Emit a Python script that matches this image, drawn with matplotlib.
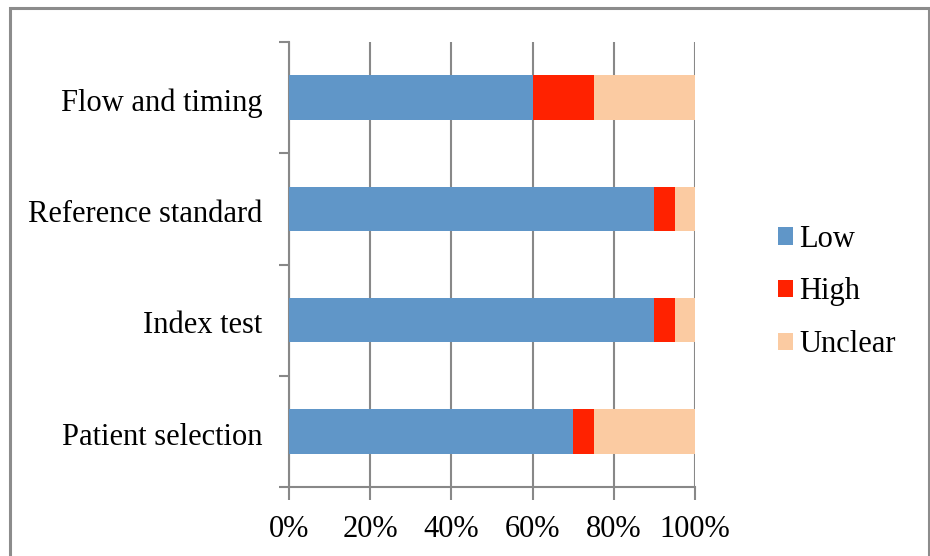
import matplotlib
matplotlib.use("Agg")
import matplotlib.pyplot as plt
from matplotlib.patches import Rectangle
from matplotlib.ticker import FixedLocator, NullFormatter

categories = ["Patient selection", "Index test", "Reference standard", "Flow and timing"]
low = [70, 90, 90, 60]
high = [5, 5, 5, 15]
unclear = [25, 5, 5, 25]
series_names = ["Low", "High", "Unclear"]
colors = ["#6096C8", "#FF2200", "#FBCBA2"]
xticks = [0, 20, 40, 60, 80, 100]
xtick_labels = ["0%", "20%", "40%", "60%", "80%", "100%"]

plt.rcParams['font.family'] = ['Liberation Serif', 'DejaVu Serif']

W, H = 930, 556
fig = plt.figure(figsize=(W / 100, H / 100), dpi=100)
ax = fig.add_axes([289 / W, 1 - 487 / H, (695 - 289) / W, (487 - 42) / H])

ypos = list(range(len(categories)))
left = [0] * len(categories)
for vals, name, c in zip([low, high, unclear], series_names, colors):
    ax.barh(ypos, vals, left=left, height=0.4, color=c, label=name, zorder=3)
    left = [a + b for a, b in zip(left, vals)]

ax.set_xlim(0, 100)
ax.set_ylim(-0.5, len(categories) - 0.5)
ax.set_xticks(xticks)
ax.set_xticklabels(xtick_labels, fontsize=22)
ax.set_yticks([y - 0.02 for y in ypos])
ax.set_yticklabels(categories, fontsize=22)
ax.tick_params(axis='y', length=0, pad=19)
ax.yaxis.set_minor_locator(FixedLocator([i - 0.5 for i in range(len(categories) + 1)]))
ax.yaxis.set_minor_formatter(NullFormatter())
ax.tick_params(axis='y', which='minor', length=7, width=1.5, color='#888888')
ax.tick_params(axis='x', length=9, width=1.5, color='#888888', pad=11)
ax.xaxis.grid(True, color='#888888', linewidth=1.5, zorder=0)
for s in ['top', 'right']:
    ax.spines[s].set_visible(False)
for s in ['left', 'bottom']:
    ax.spines[s].set_color('#888888')
    ax.spines[s].set_linewidth(1.5)

leg = fig.legend(loc='center left', bbox_to_anchor=(750 / W, 1 - 292 / H), frameon=False,
                 fontsize=22, handlelength=0.5, handleheight=0.5, handletextpad=0.2,
                 labelspacing=0.78)

fig.patches.append(Rectangle((9.5 / W, -0.05), (929 - 9.5) / W, 1.05 - 7.5 / H,
                             transform=fig.transFigure, fill=False,
                             edgecolor='#8C8C8C', linewidth=2.2))

fig.savefig("out.png", dpi=100)
